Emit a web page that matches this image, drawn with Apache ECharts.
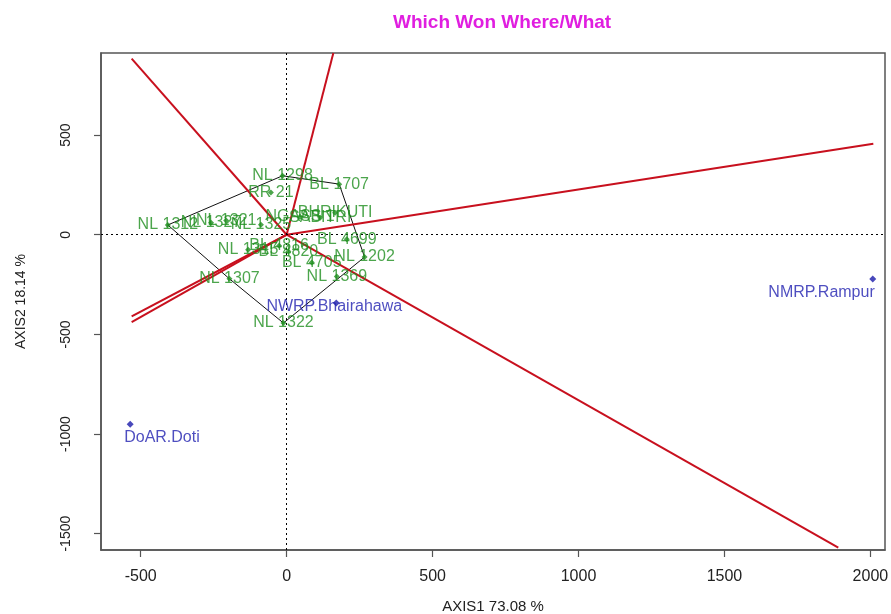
<!DOCTYPE html>
<html>
<head>
<meta charset="utf-8">
<script src="https://cdn.jsdelivr.net/npm/echarts@6/dist/echarts.min.js"></script>
<style>
html,body{margin:0;padding:0;background:#fff;}
#chart{width:891px;height:614px;}
</style>
</head>
<body>
<div id="chart"></div>
<script>
// ---- data ----
var genoNames = ["NL 1298","BL 1707","RR 21","NL 1312","NL 1327","NL 1321","NL 1325","NGASS 1","SABITRI","BHRIKUTI","NL 1315","BL 4816","BL 4820","BL 4705","BL 4699","NL 1202","NL 1369","NL 1307","NL 1322"];
var genoX = [-14, 180, -54, -407, -259, -207, -88, 46, 115, 166, -132, -26, 6, 86, 206, 267, 172, -196, -11];
var genoY = [296, 254, 212, 49, 60, 72, 50, 90, 85, 110, -75, -55, -84, -139, -22, -112, -209, -221, -443];

var envNames = ["NWRP.Bhairahawa","NMRP.Rampur","DoAR.Doti"];
var envX = [170, 2008, -536];
var envY = [-343, -222, -951];

// convex hull vertices (genotype names, in order)
var hullOrder = ["NL 1298","BL 1707","NL 1202","NL 1322","NL 1307","NL 1312"];

// rays from origin (perpendiculars to hull sides), end points
var rayEndX = [-531, 160, 2010, 1890, -531, -531];
var rayEndY = [884, 912, 457, -1570, -410, -438];

var xTicks = [-500, 0, 500, 1000, 1500, 2000];
var yTicks = [-1500, -1000, -500, 0, 500];

var titleText = "Which Won Where/What";
var xName = "AXIS1 73.08 %";
var yName = "AXIS2 18.14 %";

// ---- build ----
var FONT = "Liberation Sans";
var GREEN = "#1f8f1f";
var BLUE = "#2222b0";
var RED = "#c8101e";

var genoData = genoNames.map(function(n,i){ return {name:n, value:[genoX[i], genoY[i]]}; });
var envLabelCfg = [
  {align:'center', offset:[-2, 3]},
  {align:'right', offset:[2, 14]},
  {align:'left', offset:[-6, 13]}
];
var envData = envNames.map(function(n,i){
  return {name:n, value:[envX[i], envY[i]],
    label:{align:envLabelCfg[i].align, offset:envLabelCfg[i].offset}};
});
var hullData = hullOrder.map(function(n){ var i = genoNames.indexOf(n); return [genoX[i], genoY[i]]; });
hullData.push(hullData[0].slice());

var series = [];
series.push({
  type:'line', data:hullData, symbol:'none', silent:true,
  lineStyle:{color:'#111', width:1}, z:3
});
for (var r=0;r<rayEndX.length;r++){
  series.push({
    type:'line', data:[[0,0],[rayEndX[r], rayEndY[r]]], symbol:'none', silent:true,
    lineStyle:{color:RED, width:2}, z:4
  });
}
series.push({
  type:'scatter', data:genoData, symbol:'diamond', symbolSize:6,
  itemStyle:{color:GREEN}, z:5,
  label:{show:true, position:'inside', formatter:'{b}', color:GREEN,
    fontFamily:FONT, fontSize:16}
});
series.push({
  type:'scatter', data:envData, symbol:'diamond', symbolSize:7,
  itemStyle:{color:'#1a1aaa'}, z:5,
  label:{show:true, position:'inside', formatter:'{b}', color:BLUE,
    fontFamily:FONT, fontSize:16},
  markLine:{
    silent:true, symbol:'none', label:{show:false},
    lineStyle:{color:'#000', type:[2,3], width:1},
    data:[{xAxis:0},{yAxis:0}]
  }
});

function plain(v){ return String(v); }

var chart = echarts.init(document.getElementById('chart'), null, {renderer:'canvas'});
chart.setOption({
  animation:false,
  backgroundColor:'#fff',
  title:{
    text:titleText, left:388, top:8,
    textStyle:{color:'#e01ee0', fontFamily:FONT, fontWeight:'bold', fontSize:19}
  },
  grid:{left:101, right:6, top:53, bottom:64, outerBoundsMode:'none', containLabel:false,
    show:true, borderColor:'#555', borderWidth:1.5, backgroundColor:'transparent'},
  xAxis:{
    type:'value', min:-636, max:2050,
    name:xName, nameLocation:'middle', nameGap:49,
    nameTextStyle:{color:'#222', fontFamily:FONT, fontSize:15},
    axisLine:{show:true, onZero:false, lineStyle:{color:'#555', width:1.5}},
    axisTick:{show:true, inside:false, length:7, customValues:xTicks, lineStyle:{color:'#555', width:1.2}},
    axisLabel:{show:true, customValues:xTicks, formatter:plain, margin:19, color:'#222', fontFamily:FONT, fontSize:16},
    splitLine:{show:false}
  },
  yAxis:{
    type:'value', min:-1582, max:912,
    name:yName, nameLocation:'middle', nameGap:73, nameRotate:90,
    nameTextStyle:{color:'#222', fontFamily:FONT, fontSize:14},
    axisLine:{show:true, onZero:false, lineStyle:{color:'#555', width:1.5}},
    axisTick:{show:true, inside:false, length:7, customValues:yTicks, lineStyle:{color:'#555', width:1.2}},
    axisLabel:{show:true, customValues:yTicks, formatter:plain, rotate:90, margin:28, color:'#222', fontFamily:FONT, fontSize:14},
    splitLine:{show:false}
  },
  series:series
});
</script>
</body>
</html>
